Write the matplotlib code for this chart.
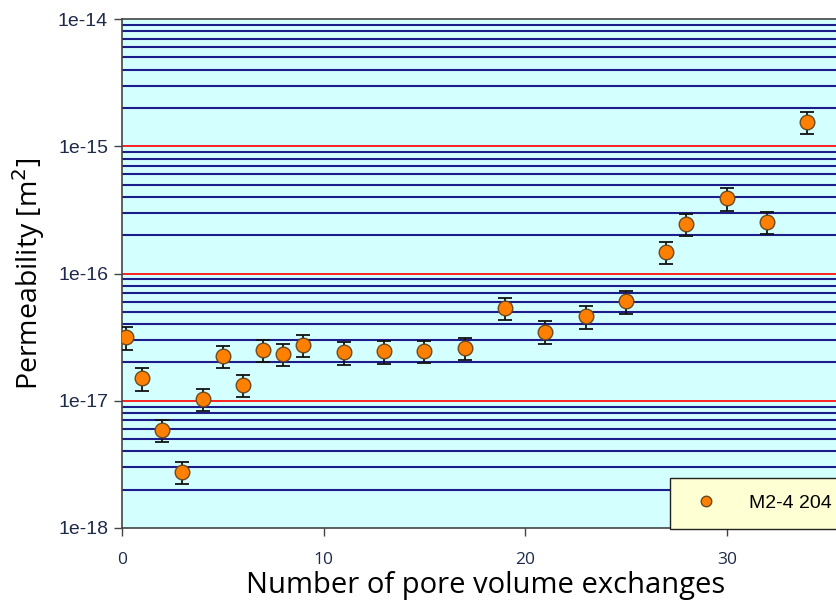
import matplotlib.pyplot as plt
import numpy as np
from matplotlib.ticker import LogLocator, NullFormatter

# permeability vs. pore volume exchanges
exchanges = [0.2, 1, 2, 3, 4, 5, 6, 7, 8, 9, 11, 13, 15, 17, 19, 21, 23, 25, 27, 28, 30, 32, 34]
perm = [3.15e-17, 1.5e-17, 5.9e-18, 2.75e-18, 1.03e-17, 2.25e-17, 1.33e-17, 2.5e-17,
        2.33e-17, 2.75e-17, 2.4e-17, 2.45e-17, 2.47e-17, 2.6e-17, 5.35e-17, 3.5e-17,
        4.6e-17, 6.05e-17, 1.48e-16, 2.45e-16, 3.9e-16, 2.55e-16, 1.55e-15]
rel_err = 0.2
series_label = "M2-4 204"

perm = np.array(perm)

fig = plt.figure(figsize=(8.37, 6.04), dpi=100)
ax = fig.add_axes([122 / 837, 1 - 528 / 604, 1.02 - 122 / 837, (528 - 19) / 604])
ax.set_facecolor('#d4ffff')

ax.set_yscale('log')
ax.set_ylim(1e-18, 1e-14)
ax.set_xlim(0, 36.3)

# grid: red at decades, navy for the 2..9 subdivisions
for dec in [1e-17, 1e-16, 1e-15]:
    ax.axhline(dec, color='#ff2020', lw=1.4, zorder=1)
for dec in [1e-18, 1e-17, 1e-16, 1e-15]:
    for m in range(2, 10):
        ax.axhline(m * dec, color='#1c1c8a', lw=1.5, zorder=1)

ax.errorbar(exchanges, perm, yerr=rel_err * perm, fmt='none', ecolor='#111111',
            elinewidth=1.3, capsize=5, capthick=1.3, zorder=3)
ax.plot(exchanges, perm, 'o', ms=10.5, mfc='#ff8000', mec='#6a4a20', mew=1.0,
        zorder=4, label=series_label)

ax.set_yticks([1e-18, 1e-17, 1e-16, 1e-15, 1e-14])
ax.set_yticklabels(['1e-18', '1e-17', '1e-16', '1e-15', '1e-14'])
ax.yaxis.set_minor_locator(LogLocator(base=10, subs='auto', numticks=100))
ax.yaxis.set_minor_formatter(NullFormatter())
ax.tick_params(axis='y', which='minor', length=0)
ax.set_xticks([0, 10, 20, 30])

ax.tick_params(axis='both', which='major', direction='out', length=6, width=1,
               color='#444444', labelcolor='#1e2a4a')
for t in ax.get_yticklabels():
    t.set_fontfamily('Liberation Sans')
    t.set_fontsize(14)
for t in ax.get_xticklabels():
    t.set_fontfamily('Open Sans')
    t.set_fontsize(12.5)
ax.tick_params(axis='x', pad=11)
ax.tick_params(axis='y', pad=4)

for side in ['left', 'bottom', 'top']:
    ax.spines[side].set_color('#444444')
    ax.spines[side].set_linewidth(1.2)
ax.spines['right'].set_visible(False)

ax.set_xlabel('Number of pore volume exchanges', fontfamily='Open Sans', fontsize=21)
ax.xaxis.label.set_va('baseline')
ax.xaxis.set_label_coords(0.4975, -0.127)
ax.set_ylabel('Permeability [m$^2$]', fontfamily='Open Sans', fontsize=20.5, labelpad=8)

leg = ax.legend(loc='upper left', bbox_to_anchor=(670 / 837, 1 - 478 / 604),
                bbox_transform=fig.transFigure, frameon=True, fancybox=False,
                borderpad=0.85, handletextpad=1.2, borderaxespad=0,
                prop={'family': 'Liberation Sans', 'size': 14}, markerscale=0.72)
leg.get_frame().set_facecolor('#ffffd4')
leg.get_frame().set_edgecolor('#222222')
leg.get_frame().set_linewidth(1.0)
leg.get_frame().set_alpha(1)
leg.set_zorder(10)

fig.savefig('out.png', dpi=100)
